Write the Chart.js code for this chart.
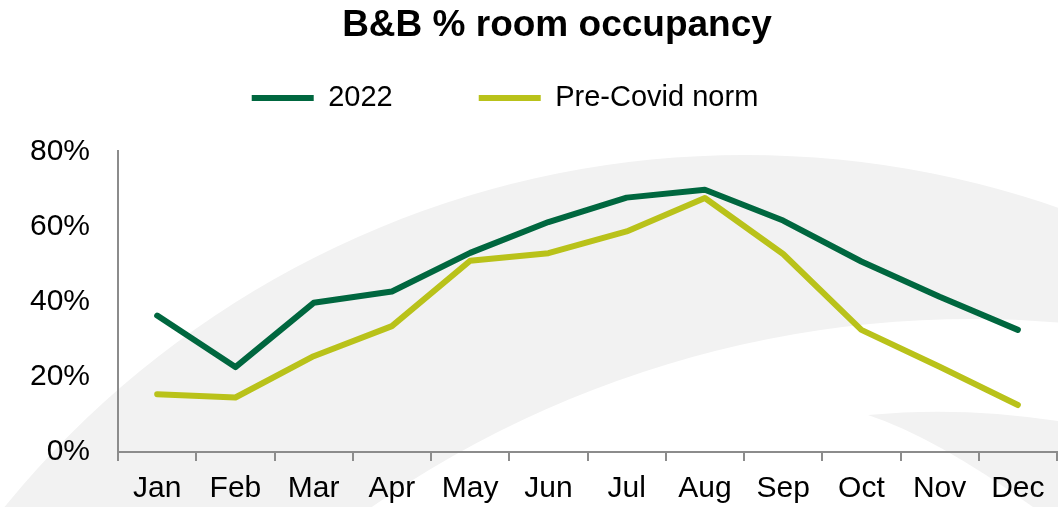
<!DOCTYPE html>
<html>
<head>
<meta charset="utf-8">
<title>B&amp;B % room occupancy</title>
<script src="https://cdn.jsdelivr.net/npm/chart.js@4.4.1/dist/chart.umd.min.js"></script>
<style>
  html, body { margin: 0; padding: 0; background: #fff; }
  #wrap { width: 1058px; height: 507px; }
</style>
</head>
<body>
<div id="wrap"><canvas id="occupancyChart"></canvas></div>
<script>
const months = ['Jan', 'Feb', 'Mar', 'Apr', 'May', 'Jun', 'Jul', 'Aug', 'Sep', 'Oct', 'Nov', 'Dec'];
const occupancy2022 = [36.3, 22.6, 39.7, 42.7, 53.0, 61.2, 67.7, 69.8, 61.6, 50.7, 41.3, 32.5];
const occupancyPreCovid = [15.4, 14.5, 25.5, 33.5, 50.9, 52.9, 58.7, 67.6, 52.7, 32.5, 22.7, 12.5];
const yTicks = [0, 20, 40, 60, 80];

const axisGrey = '#8c8c8c';
Chart.defaults.font.family = "'Liberation Sans', Arial, sans-serif";
Chart.defaults.color = '#000';

// light grey swooshes behind everything
const swooshes = {
  id: 'swooshes',
  beforeDraw(chart) {
    const c = chart.ctx;
    c.save();
    c.fillStyle = '#ffffff';
    c.fillRect(0, 0, chart.width, chart.height);
    c.fillStyle = '#f2f2f2';
    c.beginPath();
    c.arc(745, 1110, 955, 0, Math.PI * 2);
    c.moveTo(973 + 1055, 1374);
    c.arc(973, 1374, 1055, 0, Math.PI * 2);
    c.fill('evenodd');
    c.beginPath();
    c.moveTo(868, 415);
    c.quadraticCurveTo(960, 406, 1058, 421);
    c.lineTo(1058, 507);
    c.lineTo(1033, 507);
    c.quadraticCurveTo(935, 437, 868, 415);
    c.fill();
    c.restore();
  }
};

// title and legend are not centred on the canvas in the original
const nudge = {
  id: 'nudge',
  afterLayout(chart) {
    const t = chart.titleBlock;
    const dt = 557 - (t.left + t.right) / 2;
    t.left += dt;
    t.right += dt;

    const l = chart.legend;
    const dl = 505 - (l.left + l.right) / 2;
    l.left += dl;
    l.right += dl;
    // move the row up, keep the bottom so the clip box still holds the text
    const labels = l.options.labels;
    const dy = 98 - (l.top + labels.padding + labels.font.size / 2);
    l.top += dy;
  }
};

const ctx = document.getElementById('occupancyChart');

const occupancyChart = new Chart(ctx, {
  type: 'line',
  data: {
    labels: months,
    datasets: [{
      label: '2022',
      data: occupancy2022,
      borderColor: '#00673f',
      backgroundColor: '#00673f',
      borderWidth: 6,
      pointRadius: 0,
      borderCapStyle: 'round',
      borderJoinStyle: 'round'
    }, {
      label: 'Pre-Covid norm',
      data: occupancyPreCovid,
      borderColor: '#b9c21a',
      backgroundColor: '#b9c21a',
      borderWidth: 6,
      pointRadius: 0,
      borderCapStyle: 'round',
      borderJoinStyle: 'round'
    }]
  },
  options: {
    responsive: true,
    maintainAspectRatio: false,
    animation: false,
    events: [],
    layout: {
      padding: { left: 2, right: 1, top: 0, bottom: 0 }
    },
    plugins: {
      title: {
        display: true,
        text: 'B&B % room occupancy',
        color: '#000',
        font: { size: 37, weight: 'bold' },
        padding: { top: 4, bottom: 0 }
      },
      legend: {
        display: true,
        maxHeight: 103,
        labels: {
          usePointStyle: true,
          pointStyle: 'line',
          pointStyleWidth: 62,
          font: { size: 29 },
          color: '#000',
          padding: 86
        }
      },
      tooltip: { enabled: false }
    },
    scales: {
      x: {
        offset: true,
        grid: {
          offset: true,
          drawOnChartArea: false,
          drawTicks: true,
          tickLength: 9,
          color: axisGrey,
          lineWidth: 2
        },
        border: { display: true, color: axisGrey, width: 2 },
        ticks: {
          font: { size: 30 },
          color: '#000',
          padding: 10,
          maxRotation: 0,
          autoSkip: false
        },
        afterFit: axis => {
          axis.height = 55;
        }
      },
      y: {
        min: 0,
        max: 80,
        grid: { display: false, drawTicks: false },
        border: { display: true, color: axisGrey, width: 2 },
        afterBuildTicks: axis => {
          axis.ticks = yTicks.map(v => ({ value: v }));
        },
        ticks: {
          font: { size: 30 },
          color: '#000',
          padding: 28,
          callback: v => v + '%'
        }
      }
    }
  },
  plugins: [swooshes, nudge]
});
</script>
</body>
</html>
